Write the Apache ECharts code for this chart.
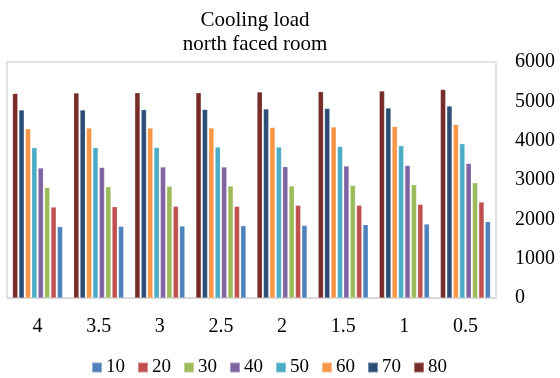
<!DOCTYPE html>
<html>
<head>
<meta charset="utf-8">
<script src="https://cdn.jsdelivr.net/npm/echarts@6/dist/echarts.min.js"></script>
<style>html,body{margin:0;padding:0;background:#fff}#c{width:560px;height:378px}</style>
</head>
<body>
<div id="c"></div>
<script>
const categories = ['4', '3.5', '3', '2.5', '2', '1.5', '1', '0.5'];
const seriesNames = ['10', '20', '30', '40', '50', '60', '70', '80'];
const s10 = [1813, 1822, 1830, 1839, 1847, 1864, 1881, 1940];
const s20 = [2313, 2322, 2330, 2330, 2356, 2356, 2381, 2440];
const s30 = [2813, 2830, 2839, 2847, 2847, 2864, 2881, 2932];
const s40 = [3305, 3322, 3330, 3330, 3339, 3355, 3372, 3423];
const s50 = [3822, 3822, 3830, 3838, 3838, 3855, 3872, 3923];
const s60 = [4305, 4321, 4321, 4321, 4338, 4347, 4364, 4415];
const s70 = [4780, 4780, 4788, 4796, 4805, 4822, 4830, 4881];
const s80 = [5203, 5211, 5220, 5220, 5237, 5245, 5262, 5305];
const yTicks = [0, 1000, 2000, 3000, 4000, 5000, 6000];
const colors = {
  '10': '#4F81BD', '20': '#C0504D', '30': '#9BBB59', '40': '#8064A2',
  '50': '#4BACC6', '60': '#F79646', '70': '#2C4D75', '80': '#772C2A'
};
const values = { '10': s10, '20': s20, '30': s30, '40': s40, '50': s50, '60': s60, '70': s70, '80': s80 };
const font = '"Liberation Serif", "Times New Roman", serif';

// bars inside each group are ordered 80 ... 10 from left to right
const drawOrder = ['80', '70', '60', '50', '40', '30', '20', '10'];
const series = drawOrder.map(name => ({
  name: name,
  type: 'bar',
  data: values[name],
  barCategoryGap: '18%',
  barGap: '20%',
  itemStyle: { color: colors[name], borderColor: 'rgba(255,255,255,0.35)', borderWidth: 0.6 }
}));

const chart = echarts.init(document.getElementById('c'), null, { renderer: 'canvas' });
chart.setOption({
  animation: false,
  color: drawOrder.map(n => colors[n]),
  title: {
    text: 'Cooling load\nnorth faced room',
    left: 250,
    top: 3,
    textAlign: 'center',
    textStyle: { fontFamily: font, fontSize: 21, fontWeight: 'normal', color: '#000', lineHeight: 24 }
  },
  legend: {
    data: seriesNames,
    left: 86,
    top: 353,
    itemWidth: 10,
    itemHeight: 10,
    itemGap: 12,
    icon: 'rect',
    textStyle: { fontFamily: font, fontSize: 19, color: '#000', padding: [0, 0, 0, -1] }
  },
  grid: {
    left: 7, right: 64, top: 62, bottom: 80,
    show: true, borderColor: '#D9D9D9', borderWidth: 1.5
  },
  xAxis: {
    type: 'category',
    data: categories,
    axisLine: { show: true, lineStyle: { color: '#D9D9D9', width: 2 } },
    axisTick: { show: false },
    axisLabel: { fontFamily: font, fontSize: 20, color: '#000', margin: 19 }
  },
  yAxis: {
    type: 'value',
    position: 'right',
    min: yTicks[0],
    max: yTicks[yTicks.length - 1],
    interval: 1000,
    splitLine: { show: false },
    axisLine: { show: false },
    axisTick: { show: false },
    axisLabel: { fontFamily: font, fontSize: 20, color: '#000', margin: 19, formatter: v => String(v) }
  },
  series: series
});
</script>
</body>
</html>
